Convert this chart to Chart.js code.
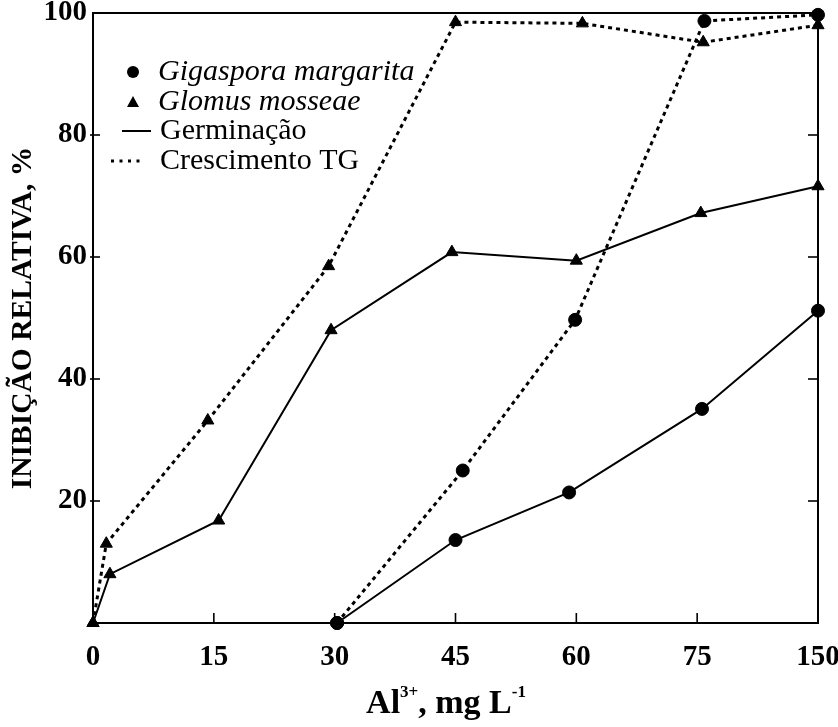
<!DOCTYPE html>
<html><head><meta charset="utf-8">
<script src="https://cdn.jsdelivr.net/npm/chart.js@4/dist/chart.umd.min.js"></script>
<style>html,body{margin:0;padding:0;background:#fff}#wrap{width:838px;height:727px}</style>
</head><body><div id="wrap"><canvas id="c" width="838" height="727"></canvas></div>
<script>
// Category labels of the x axis (Al3+ doses, mg/L), equally spaced
const xTickLabels = ['0', '15', '30', '45', '60', '75', '150'];
// y tick labels (0 has no label)
const yTickValues = [0, 20, 40, 60, 80, 100];
const yTickLabels = ['', '20', '40', '60', '80', '100'];

// x positions are given in category-index units (0 = "0", 6 = "150")
// Glomus mosseae – Germinação (solid, triangles)
const glomusGermX = [0, 0.14, 1.04, 1.97, 2.97, 4.0, 5.03, 6];
const glomusGermY = [0, 8, 16.8, 48, 60.8, 59.4, 67.2, 71.6];
// Glomus mosseae – Crescimento TG (dotted, triangles)
const glomusTgX = [0, 0.11, 0.95, 1.95, 3.0, 4.05, 5.05, 6];
const glomusTgY = [0, 13, 33.2, 58.5, 98.5, 98.3, 95.2, 98];
// Gigaspora margarita – Germinação (solid, circles)
const gigGermX = [2.02, 3.0, 3.94, 5.04, 6];
const gigGermY = [0, 13.6, 21.4, 35.1, 51.2];
// Gigaspora margarita – Crescimento TG (dotted, circles)
const gigTgX = [2.02, 3.06, 3.99, 5.06, 6];
const gigTgY = [0, 25, 49.7, 98.7, 99.7];

const SERIF = '"Liberation Serif", "Times New Roman", serif';
const toPts = (xs, ys) => xs.map((x, i) => ({x: x, y: ys[i]}));

function mkSet(label, xs, ys, style, dotted) {
  return {
    label: label,
    data: toPts(xs, ys),
    borderColor: '#000',
    backgroundColor: '#000',
    borderWidth: dotted ? 3 : 2,
    borderDash: dotted ? [4, 4] : [],
    pointStyle: style,
    pointRadius: style === 'triangle' ? 7 : 6.5,
    pointBackgroundColor: '#000',
    pointBorderColor: '#000',
    pointBorderWidth: 1,
    tension: 0,
    fill: false,
    clip: false
  };
}

function seg(ctx, x1, y1, x2, y2) { ctx.beginPath(); ctx.moveTo(x1, y1); ctx.lineTo(x2, y2); ctx.stroke(); }

const boxPlugin = {
  id: 'box',
  beforeDatasetsDraw(chart) {
    const {ctx, chartArea: a, scales} = chart;
    const x = scales.x, y = scales.y;
    ctx.save();
    ctx.strokeStyle = '#000';
    ctx.lineWidth = 2;
    ctx.strokeRect(a.left, a.top, a.right - a.left, a.bottom - a.top);
    ctx.lineWidth = 1.6;
    yTickValues.forEach(v => {
      if (v <= 0 || v >= 100) return;
      const py = y.getPixelForValue(v);
      seg(ctx, a.left - 3, py, a.left + 7, py);
      seg(ctx, a.right - 10, py, a.right, py);
    });
    xTickLabels.forEach((l, i) => {
      if (i === 0 || i === xTickLabels.length - 1) return;
      const px = x.getPixelForValue(i);
      seg(ctx, px, a.bottom, px, a.bottom - 10);
    });
    ctx.restore();
  },
  afterDraw(chart) {
    const {ctx, chartArea: a} = chart;
    ctx.save();
    ctx.fillStyle = '#000';
    ctx.strokeStyle = '#000';
    ctx.textBaseline = 'middle';
    ctx.textAlign = 'left';
    // legend
    const lx = 133, tx = 158;
    const rows = [72, 102, 131, 161];
    ctx.beginPath(); ctx.arc(lx, rows[0], 6, 0, Math.PI * 2); ctx.fill();
    ctx.font = 'italic 30px ' + SERIF;
    ctx.fillText('Gigaspora margarita', tx, rows[0]);
    ctx.beginPath();
    ctx.moveTo(lx, rows[1] - 6); ctx.lineTo(lx + 6, rows[1] + 5); ctx.lineTo(lx - 6, rows[1] + 5); ctx.closePath(); ctx.fill();
    ctx.fillText('Glomus mosseae', tx, rows[1]);
    ctx.lineWidth = 2;
    seg(ctx, 122, rows[2], 151, rows[2]);
    ctx.font = '30px ' + SERIF;
    ctx.fillText('Germinação', 160, rows[2]);
    for (let k = 0; k < 4; k++) ctx.fillRect(111 + k * 8.5, rows[3] - 1.5, 3, 3);
    ctx.fillText('Crescimento TG', 160, rows[3]);
    // x axis title with superscripts
    const cx = 446;
    const base = 713;
    const big = 'bold 34px ' + SERIF, small = 'bold 17px ' + SERIF;
    const parts = [['Al', big, 0], ['3+', small, -16], [', mg L', big, 0], ['-1', small, -16]];
    let w = 0;
    parts.forEach(p => { ctx.font = p[1]; w += ctx.measureText(p[0]).width; });
    let px = cx - w / 2;
    ctx.textBaseline = 'alphabetic';
    parts.forEach(p => { ctx.font = p[1]; ctx.fillText(p[0], px, base + p[2]); px += ctx.measureText(p[0]).width; });
    ctx.restore();
  }
};

new Chart(document.getElementById('c'), {
  type: 'line',
  data: {
    datasets: [
      mkSet('Glomus mosseae – Germinação', glomusGermX, glomusGermY, 'triangle', false),
      mkSet('Glomus mosseae – Crescimento TG', glomusTgX, glomusTgY, 'triangle', true),
      mkSet('Gigaspora margarita – Germinação', gigGermX, gigGermY, 'circle', false),
      mkSet('Gigaspora margarita – Crescimento TG', gigTgX, gigTgY, 'circle', true)
    ]
  },
  options: {
    responsive: false,
    animation: false,
    devicePixelRatio: 1,
    layout: {padding: {top: 13, right: 20, left: 0, bottom: 0}},
    plugins: {legend: {display: false}, tooltip: {enabled: false}},
    scales: {
      x: {
        type: 'linear', min: 0, max: 6,
        grid: {display: false, drawTicks: false},
        border: {display: false},
        ticks: {
          stepSize: 1, autoSkip: false, maxRotation: 0, padding: 17, color: '#000',
          font: {family: SERIF, size: 29, weight: 'bold'},
          callback: v => xTickLabels[v] ?? ''
        },
        afterFit: s => { s.height = 104; s.paddingLeft = 0; s.paddingRight = 0; }
      },
      y: {
        type: 'linear', min: 0, max: 100,
        grid: {display: false, drawTicks: false},
        border: {display: false},
        ticks: {
          stepSize: 20, padding: 6, color: '#000',
          font: {family: SERIF, size: 29, weight: 'bold'},
          callback: v => yTickLabels[yTickValues.indexOf(v)] ?? ''
        },
        title: {
          display: true, text: 'INIBIÇÃO RELATIVA, %', color: '#000',
          font: {family: SERIF, size: 29.5, weight: 'bold'},
          padding: {top: 6, bottom: 0}
        },
        afterFit: s => { s.width = 93; s.paddingTop = 0; s.paddingBottom = 0; }
      }
    }
  },
  plugins: [boxPlugin]
});
</script>
</body></html>
